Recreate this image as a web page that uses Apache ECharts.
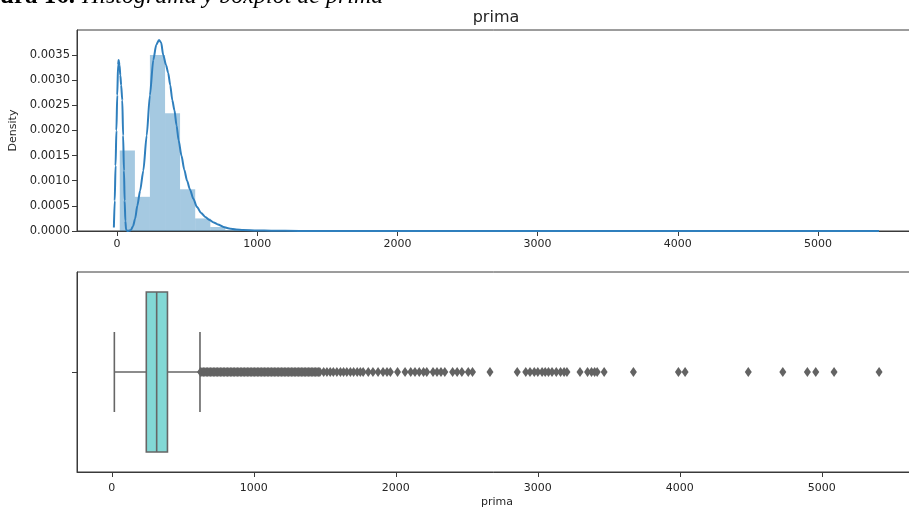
<!DOCTYPE html>
<html>
<head>
<meta charset="utf-8">
<script src="https://cdn.jsdelivr.net/npm/echarts@6/dist/echarts.min.js"></script>
<style>
  html, body { margin: 0; padding: 0; background: #fff; }
  #chart { width: 909px; height: 509px; }
</style>
</head>
<body>
<div id="chart"></div>
<script>
// Tick positions shared by both x axes
const xTicks = [0, 1000, 2000, 3000, 4000, 5000];
const densityTicks = [0, 0.0005, 0.0010, 0.0015, 0.0020, 0.0025, 0.0030, 0.0035];

// Histogram of "prima" (density-normalised), bin edges and heights
const binEdges = [20, 128, 235, 343, 450, 558, 666, 773, 881, 988];
const binDensity = [0.0016, 0.00068, 0.0035, 0.00234, 0.00083, 0.00025, 0.00008, 0.00002, 0.00001];

// Kernel density estimate curve
const kdeX = [-22, -16, -10, -4, 2, 8, 12, 18, 24, 30, 38, 44, 50, 55, 60, 65, 75, 90, 100, 115, 130, 145,
  165, 188, 212, 235, 259, 280, 300, 315, 330, 350, 365, 380, 395, 410, 425, 440, 460, 480, 500, 520,
  545, 570, 600, 630, 660, 690, 720, 760, 800, 850, 900, 1000, 1100, 1300, 2000, 3000, 4000, 5000, 5435];
const kdeY = [0.00007, 0.0006, 0.0013, 0.0020, 0.0027, 0.0033, 0.0034, 0.0033, 0.0031, 0.0029, 0.0026,
  0.0019, 0.0012, 0.0006, 0.0002, 0.00003, 0, 0.00001, 0.00002, 0.0001, 0.00025, 0.0005,
  0.0008, 0.0012, 0.0019, 0.0027, 0.0034, 0.0037, 0.0038, 0.00375, 0.0035, 0.0033, 0.00315, 0.0029, 0.0026,
  0.0024, 0.0021, 0.0018, 0.0015, 0.00122, 0.001, 0.00083, 0.00064, 0.00048, 0.00036, 0.00028, 0.00022,
  0.00017, 0.00013, 0.00008, 0.00005, 0.00003, 0.00002, 0.00001, 0.000005, 0.000002, 0.000001, 0.0000005,
  0.0000003, 0.0000002, 0];

// Boxplot: lower whisker, Q1, median, Q3, upper whisker
const boxStats = [18, 243, 316, 392, 621];

// Points beyond the upper whisker
const outliers = [625, 635, 645, 655, 665, 675, 685, 695, 705, 715, 725, 735, 745, 755, 765, 775, 785, 795,
  805, 815, 825, 835, 845, 855, 865, 875, 885, 895, 905, 915, 925, 935, 945, 955, 965, 975, 985, 995,
  1005, 1015, 1025, 1035, 1045, 1055, 1065, 1075, 1085, 1095, 1105, 1115, 1125, 1135, 1145, 1155, 1165,
  1175, 1185, 1195, 1205, 1215, 1225, 1235, 1245, 1255, 1265, 1275, 1285, 1295, 1305, 1315, 1325, 1335,
  1345, 1355, 1365, 1375, 1385, 1395, 1405, 1415, 1425, 1435, 1445, 1455, 1465,
  1492, 1515, 1538, 1560, 1585, 1610, 1632, 1655, 1680, 1703, 1728, 1750, 1770,
  1806, 1839, 1875, 1910, 1938, 1962, 2012,
  2065, 2105, 2135, 2165, 2195, 2218,
  2262, 2290, 2318, 2345, 2400, 2432, 2465, 2510, 2540, 2663, 2855,
  2915, 2945, 2975, 3000, 3030, 3052, 3075, 3100, 3130, 3160, 3185, 3205,
  3297, 3350, 3378, 3400, 3418, 3467, 3673, 3990, 4037, 4482, 4725, 4898, 4957, 5086, 5403];

const FONT = 'DejaVu Sans';
const TXT = '#262626';
const SPINE = '#3a3a3a';
const BOXLINE = '#666666';

const chart = echarts.init(document.getElementById('chart'), null, { renderer: 'canvas' });

const baseX = (idx, min, max, margin) => ({
  type: 'value', gridIndex: idx, min: min, max: max,
  splitLine: { show: false },
  axisLine: { show: true, onZero: false, lineStyle: { color: SPINE, width: 1 } },
  axisTick: { show: true, customValues: xTicks, length: 5, lineStyle: { color: SPINE } },
  axisLabel: { customValues: xTicks, color: TXT, fontFamily: FONT, fontSize: 11, margin: margin,
    formatter: v => String(v) }
});

const option = {
  animation: false,
  backgroundColor: '#fff',
  graphic: [
    { type: 'text', x: 75, y: -3, style: { text: 'Figura 16.', font: 'bold 25px "Liberation Serif"', fill: '#000', align: 'right', verticalAlign: 'middle' } },
    { type: 'text', x: 82, y: -3, style: { text: 'Histograma y boxplot de prima', font: 'italic 24px "Liberation Serif"', fill: '#000', align: 'left', verticalAlign: 'middle' } },
    { type: 'text', x: 496, y: 18, style: { text: 'prima', font: '16px "DejaVu Sans"', fill: TXT, align: 'center', verticalAlign: 'middle' } }
  ],
  grid: [
    { left: 77, top: 30, width: 840, height: 201, show: true, borderColor: SPINE, borderWidth: 1,
      backgroundColor: 'transparent', outerBoundsMode: 'none', containLabel: false },
    { left: 77, top: 272, width: 840, height: 200, show: true, borderColor: SPINE, borderWidth: 1,
      backgroundColor: 'transparent', outerBoundsMode: 'none', containLabel: false }
  ],
  xAxis: [
    baseX(0, -285, 5706, 8),
    Object.assign(baseX(1, -245, 5670, 11), {
      name: 'prima', nameLocation: 'middle', nameGap: 25,
      nameTextStyle: { color: TXT, fontFamily: FONT, fontSize: 11 }
    })
  ],
  yAxis: [
    {
      type: 'value', gridIndex: 0, min: 0, max: 0.003998,
      splitLine: { show: false },
      axisLine: { show: true, onZero: false, lineStyle: { color: SPINE, width: 1 } },
      axisTick: { show: true, customValues: densityTicks, length: 5, lineStyle: { color: SPINE } },
      axisLabel: { customValues: densityTicks, color: TXT, fontFamily: FONT, fontSize: 11.5, margin: 7,
        formatter: v => v.toFixed(4) },
      name: 'Density', nameLocation: 'middle', nameGap: 52,
      nameTextStyle: { color: TXT, fontFamily: FONT, fontSize: 11 }
    },
    {
      type: 'value', gridIndex: 1, min: -0.5, max: 0.5,
      splitLine: { show: false },
      axisLine: { show: true, onZero: false, lineStyle: { color: SPINE, width: 1 } },
      axisTick: { show: true, customValues: [0], length: 5, lineStyle: { color: SPINE } },
      axisLabel: { show: false }
    }
  ],
  series: [
    {
      type: 'custom', name: 'hist', xAxisIndex: 0, yAxisIndex: 0,
      data: binDensity.map((d, i) => [binEdges[i], binEdges[i + 1], d]),
      encode: { x: [0, 1], y: 2 },
      renderItem: (params, api) => {
        const a = api.coord([api.value(0), api.value(2)]);
        const b = api.coord([api.value(1), 0]);
        return { type: 'rect', shape: { x: a[0], y: a[1], width: b[0] - a[0], height: b[1] - a[1] },
          style: { fill: 'rgba(31,119,180,0.4)' } };
      },
      z: 2
    },
    {
      type: 'line', name: 'kde', xAxisIndex: 0, yAxisIndex: 0,
      data: kdeX.map((x, i) => [x, kdeY[i]]),
      showSymbol: false, smooth: 0.25, smoothMonotone: 'x',
      lineStyle: { color: '#2f7fbd', width: 2 },
      z: 3
    },
    {
      type: 'custom', name: 'box', xAxisIndex: 1, yAxisIndex: 1,
      data: [boxStats.concat([0])],
      encode: { x: [0, 1, 2, 3, 4], y: 5 },
      renderItem: (params, api) => {
        const lo = api.value(0), q1 = api.value(1), med = api.value(2), q3 = api.value(3), hi = api.value(4), c = api.value(5);
        const P = (x, y) => api.coord([x, y]);
        const ln = (p, q) => ({ type: 'line', shape: { x1: p[0], y1: p[1], x2: q[0], y2: q[1] },
          style: { stroke: BOXLINE, lineWidth: 1.6 } });
        const a = P(q1, c + 0.4), b = P(q3, c - 0.4);
        return { type: 'group', children: [
          ln(P(lo, c), P(q1, c)),
          ln(P(q3, c), P(hi, c)),
          ln(P(lo, c - 0.2), P(lo, c + 0.2)),
          ln(P(hi, c - 0.2), P(hi, c + 0.2)),
          { type: 'rect', shape: { x: a[0], y: a[1], width: b[0] - a[0], height: b[1] - a[1] },
            style: { fill: '#82d8d5', stroke: BOXLINE, lineWidth: 1.6 } },
          ln(P(med, c - 0.4), P(med, c + 0.4))
        ] };
      },
      z: 2
    },
    {
      type: 'scatter', name: 'outliers', xAxisIndex: 1, yAxisIndex: 1,
      data: outliers.map(v => [v, 0]),
      symbol: 'diamond', symbolSize: [7, 10],
      itemStyle: { color: '#636363', opacity: 1 },
      z: 3
    }
  ]
};

chart.setOption(option);
</script>
</body>
</html>
